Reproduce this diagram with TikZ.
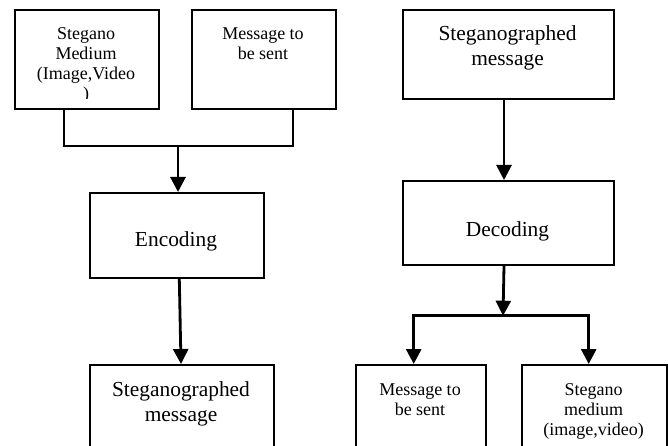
\documentclass[tikz,border=0pt]{standalone}
\usepackage{fontspec}
\setmainfont{Liberation Serif}
\usetikzlibrary{arrows.meta}
\tikzset{
  box/.style={draw, line width=2pt, rectangle, inner sep=0pt, anchor=north west},
  small/.style={font=\fontsize{18}{20}\selectfont, align=center, anchor=base, inner sep=0pt},
  big/.style={font=\fontsize{21.4}{25}\selectfont, align=center, anchor=base, inner sep=0pt},
  conn/.style={line width=2pt},
  arr/.style={line width=2.8pt, -{Triangle[width=15pt,length=15pt]}}
}
\begin{document}
\begin{tikzpicture}[x=1pt,y=-1pt]
\useasboundingbox (0,0) rectangle (668,446);
% left column (anchor=base marks the baseline of the last line)
\node[box, minimum width=144pt, minimum height=98.5pt] (b1) at (14,9.5) {};
\begin{scope}
\clip (14,9.5) rectangle (158,99);
\node[small] (t1) at (86,100) {Stegano\\Medium\\(Image,Video\\)};
\end{scope}
\node[box, minimum width=144pt, minimum height=98.5pt] (b2) at (191,9.5) {};
\node[small] (t2) at (263,60) {Message to\\be sent};
\node[box, minimum width=174pt, minimum height=85pt] (enc) at (89,192) {};
\node[big] (t3) at (176,246.5) {Encoding};
\node[box, minimum width=184pt, minimum height=100pt] (sm) at (89,364) {};
\node[big] (t4) at (181,421) {Steganographed\\message};
% right column
\node[box, minimum width=211pt, minimum height=88.5pt] (rt) at (402,9.5) {};
\node[big] (t5) at (507.5,65.5) {Steganographed\\message};
\node[box, minimum width=211pt, minimum height=84pt] (dec) at (402,180) {};
\node[big] (t6) at (507.5,236) {Decoding};
\node[box, minimum width=130pt, minimum height=100pt] (bm) at (355,364) {};
\node[small] (t7) at (420,415) {Message to\\be sent};
\node[box, minimum width=145pt, minimum height=100pt] (br) at (521,364) {};
\node[small] (t8) at (593.5,435) {Stegano\\medium\\(image,video)};
% connectors
\coordinate (j1) at (178,146);
\coordinate (j2) at (503,315.7);
\draw[conn] ([xshift=-23.3pt]b1.south) |- (j1) -| ([xshift=29pt]b2.south);
\draw[arr] (j1) -- (j1 |- enc.north);
\draw[arr] ([xshift=2.3pt]enc.south) -- ([xshift=-1pt]sm.north);
\draw[arr] ([xshift=-4.5pt]rt.south) -- ([xshift=-4.5pt]dec.north);
\draw[arr] ([xshift=-4.5pt]dec.south) -- (j2);
\draw[arr] (j2) -| ([xshift=-7.3pt]bm.north);
\draw[arr] (j2) -| ([xshift=-5.8pt]br.north);
\end{tikzpicture}
\end{document}
